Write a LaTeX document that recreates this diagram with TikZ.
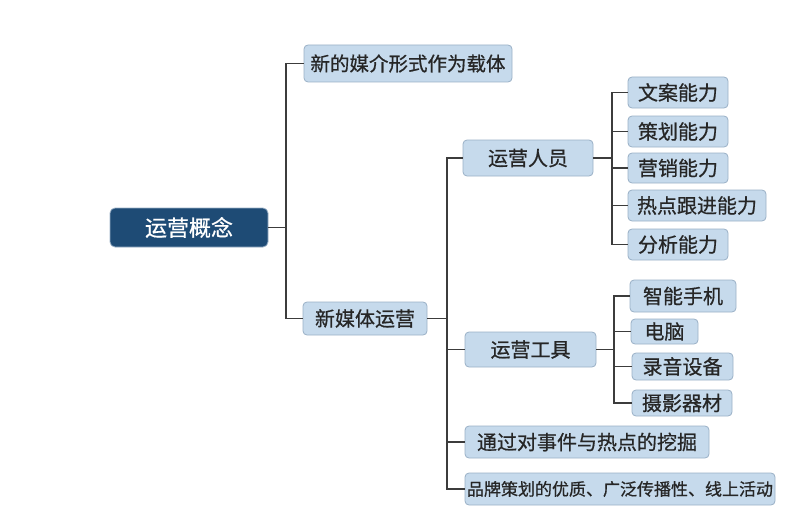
\documentclass[tikz,border=0pt]{standalone}
\usepackage{fontspec}
\setmainfont{Noto Sans CJK SC}[FakeBold=0.7]
\definecolor{boxfill}{HTML}{C6DAEC}
\definecolor{boxborder}{HTML}{9AB0C6}
\definecolor{rootfill}{HTML}{1E4B75}
\definecolor{linecol}{HTML}{3C3C3C}
\tikzset{
  box/.style={draw=boxborder, line width=0.8pt, fill=boxfill, rounded corners=4pt, inner sep=0pt, text=black!85, font=\fontsize{20}{20}\selectfont},
  rootbox/.style={draw=boxborder, line width=0.8pt, fill=rootfill, rounded corners=5pt, inner sep=0pt, text=white, font=\fontsize{22}{22}\selectfont},
  conn/.style={draw=linecol, line width=1.1pt}
}
\begin{document}
\begin{tikzpicture}[x=1pt,y=-1pt]
\useasboundingbox (0,0) rectangle (790,519);
\node[rootbox, minimum width=158pt, minimum height=39pt] (root) at (189,227.5) {运营概念};
\node[box, minimum width=208pt, minimum height=37pt, font=\fontsize{19.5}{19.5}\selectfont] (c1) at (408,63.5) {新的媒介形式作为载体};
\node[box, minimum width=124pt, minimum height=33pt] (c2) at (365,318.5) {新媒体运营};
\node[box, minimum width=130pt, minimum height=36pt] (p) at (528,158) {运营人员};
\node[box, minimum width=131pt, minimum height=35pt] (t) at (530.5,349.5) {运营工具};
\node[box, minimum width=244pt, minimum height=32pt] (e) at (587,442) {通过对事件与热点的挖掘};
\node[box, minimum width=310pt, minimum height=32pt, font=\fontsize{17}{17}\selectfont] (b) at (620,489) {品牌策划的优质、广泛传播性、线上活动};
\node[box, minimum width=100pt, minimum height=31pt] (p1) at (678,92.5) {文案能力};
\node[box, minimum width=100pt, minimum height=31pt] (p2) at (678,131.5) {策划能力};
\node[box, minimum width=100pt, minimum height=30pt] (p3) at (678,168) {营销能力};
\node[box, minimum width=138pt, minimum height=31pt] (p4) at (697,205.5) {热点跟进能力};
\node[box, minimum width=100pt, minimum height=31pt] (p5) at (678,244.5) {分析能力};
\node[box, minimum width=106pt, minimum height=32pt] (t1) at (683,296) {智能手机};
\node[box, minimum width=67pt, minimum height=25pt] (t2) at (664.5,331.5) {电脑};
\node[box, minimum width=101pt, minimum height=27pt] (t3) at (682.5,366.5) {录音设备};
\node[box, minimum width=100pt, minimum height=26pt] (t4) at (682,403) {摄影器材};
\coordinate (j1) at (286,227.5);
\coordinate (j2) at (447,318.5);
\coordinate (j3) at (612,158);
\coordinate (j4) at (614,349.5);
\draw[conn] (root.east) -- (j1);
\draw[conn] (j1) |- (c1.west);
\draw[conn] (j1) |- (c2.west);
\draw[conn] (c2.east) -- (j2);
\draw[conn] (j2) |- (p.west);
\draw[conn] (j2) |- (t.west);
\draw[conn] (j2) |- (e.west);
\draw[conn] (j2) |- (b.west);
\draw[conn] (p.east) -- (j3);
\draw[conn] (j3) |- (p1.west);
\draw[conn] (j3) |- (p2.west);
\draw[conn] (j3) |- (p3.west);
\draw[conn] (j3) |- (p4.west);
\draw[conn] (j3) |- (p5.west);
\draw[conn] (t.east) -- (j4);
\draw[conn] (j4) |- (t1.west);
\draw[conn] (j4) |- (t2.west);
\draw[conn] (j4) |- (t3.west);
\draw[conn] (j4) |- (t4.west);
\end{tikzpicture}
\end{document}
